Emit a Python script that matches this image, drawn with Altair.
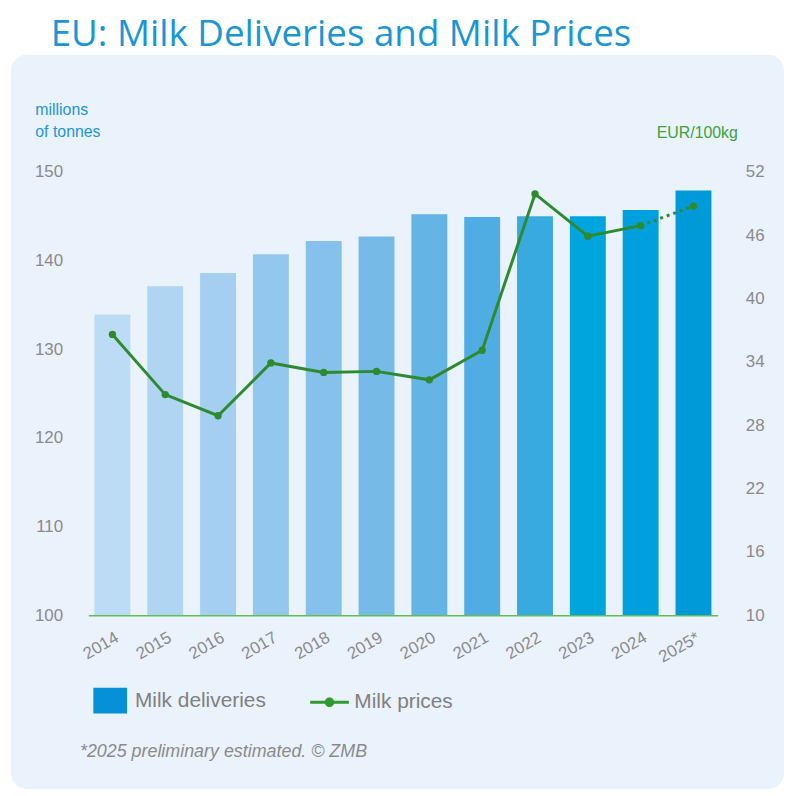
import altair as alt
import pandas as pd

# ---- data ----
years = ["2014", "2015", "2016", "2017", "2018", "2019", "2020", "2021", "2022", "2023", "2024", "2025*"]
deliveries = [133.9, 137.1, 138.6, 140.7, 142.2, 142.7, 145.2, 144.9, 145.0, 145.0, 145.7, 147.9]
prices = [36.6, 30.9, 28.9, 33.9, 33.0, 33.1, 32.3, 35.1, 49.9, 45.9, 46.9, 48.75]
bar_colors = ["#bcdcf5", "#b0d5f2", "#a4cff1", "#94c7ee", "#86c1eb", "#76bbe8",
              "#64b4e5", "#50ade3", "#38aae0", "#00a5de", "#009fdd", "#009ad9"]
left_ticks = [100, 110, 120, 130, 140, 150]
right_ticks = [10, 16, 22, 28, 34, 40, 46, 52]
legend_items = ["Milk deliveries", "Milk prices"]
legend_colors = ["#0590d8", "#2f9a2f"]

title_text = "EU: Milk Deliveries and Milk Prices"
left_unit = ["millions", "of tonnes"]
right_unit = "EUR/100kg"
footnote = "*2025 preliminary estimated. \u00a9 ZMB"

BLUE = "#1a96d6"
GRAY = "#8a8a8a"
LINE_GREEN = "#2e8a2e"
PANEL = "#eaf2fc"
FONT = "Liberation Sans"

df = pd.DataFrame({"year": years, "deliveries": deliveries, "price": prices, "color": bar_colors})

x_enc = alt.X(
    "year:N", sort=years,
    scale=alt.Scale(paddingInner=0.32, paddingOuter=0.115),
    axis=alt.Axis(
        title=footnote, titleX=-9, titleY=142, titleAlign="left", titleBaseline="alphabetic",
        titleFontStyle="italic", titleFontSize=18, titleFontWeight="normal", titleColor=GRAY,
        titleFont=FONT, titleAngle=0,
        labelAngle=-30, labelAlign="right", labelBaseline="top", labelPadding=14,
        labelOffset=1, labelFontSize=17, labelColor=GRAY, labelFont=FONT,
        ticks=False, grid=False, domainColor="#66bb55", domainWidth=1.5, zindex=1,
    ),
)

panel = alt.Chart(pd.DataFrame({"k": [0]})).mark_rect(color=PANEL, cornerRadius=16).encode(
    x=alt.value(-78), x2=alt.value(701), y=alt.value(-118), y2=alt.value(622)
)

bars = alt.Chart(df).mark_bar().encode(
    x=x_enc,
    y=alt.Y(
        "deliveries:Q",
        scale=alt.Scale(domain=[100, 150], nice=False, zero=False),
        axis=alt.Axis(
            values=left_ticks, grid=False, domain=False, ticks=False, labelPadding=26,
            labelColor=GRAY, labelFontSize=17, labelFont=FONT,
            title=left_unit, titleAngle=0, titleAlign="left", titleBaseline="top",
            titleX=-54, titleY=-71, titleColor=BLUE, titleFontSize=16,
            titleFontWeight="normal", titleLineHeight=22, titleFont=FONT, zindex=1,
        ),
    ),
    y2=alt.datum(100),
    fill=alt.Fill("color:N", scale=None),
)

y_right = alt.Y(
    "price:Q",
    scale=alt.Scale(domain=[10, 52], nice=False, zero=False),
    axis=alt.Axis(
        orient="right", values=right_ticks, grid=False, domain=False, ticks=False,
        labelPadding=28, labelColor=GRAY, labelFontSize=17, labelFont=FONT,
        title=right_unit, titleAngle=0, titleAlign="right", titleBaseline="middle",
        titleX=20, titleY=-40, titleColor="#3ea13e", titleFontSize=16,
        titleFontWeight="normal", titleFont=FONT, zindex=1,
    ),
)

line_solid = alt.Chart(df.iloc[:11]).mark_line(color=LINE_GREEN, strokeWidth=3).encode(
    x=x_enc, y=y_right
)
line_dash = alt.Chart(df.iloc[10:]).mark_line(
    color=LINE_GREEN, strokeWidth=3, strokeDash=[3, 4]
).encode(x=x_enc, y=y_right)
points = alt.Chart(df).mark_circle(color=LINE_GREEN, size=55, opacity=1).encode(
    x=x_enc, y=y_right
)

sq_path = "M-0.85,-0.65H0.85V0.65H-0.85Z"
line_path = ("M-0.975,-0.075H0.975V0.075H-0.975Z "
             "M0.24,0A0.24,0.24,0,1,1,-0.24,0A0.24,0.24,0,1,1,0.24,0Z")

leg = alt.Legend(
    orient="none", legendX=2, legendY=513, direction="horizontal", title=None,
    symbolSize=1600, symbolStrokeWidth=0, labelFontSize=21, labelColor="#808080",
    labelFont=FONT, labelOffset=5, columnPadding=44, labelLimit=0, padding=0,
)
legend_layer = alt.Chart(pd.DataFrame({"series": legend_items})).mark_point(
    filled=True, size=0.01, opacity=1
).encode(
    x=alt.value(21), y=alt.value(533),
    color=alt.Color("series:N", scale=alt.Scale(domain=legend_items, range=legend_colors), legend=leg),
    shape=alt.Shape("series:N", scale=alt.Scale(domain=legend_items, range=[sq_path, line_path]), legend=leg),
)

right_layer = alt.layer(line_solid, line_dash, points, legend_layer)

chart = alt.layer(panel, bars, right_layer).resolve_scale(y="independent").properties(
    width=634, height=447,
    autosize=alt.AutoSizeParams(type="none"),
    padding={"left": 81, "top": 162, "right": 67, "bottom": 177},
    background="white",
    title=alt.TitleParams(
        title_text, anchor="start", frame="group", font="Open Sans", fontSize=37,
        fontWeight="normal", color=BLUE, dx=-38, dy=-1, offset=0,
    ),
).configure_view(strokeWidth=0)

chart.save("out.html", embed_options={"renderer": "svg", "actions": False})
